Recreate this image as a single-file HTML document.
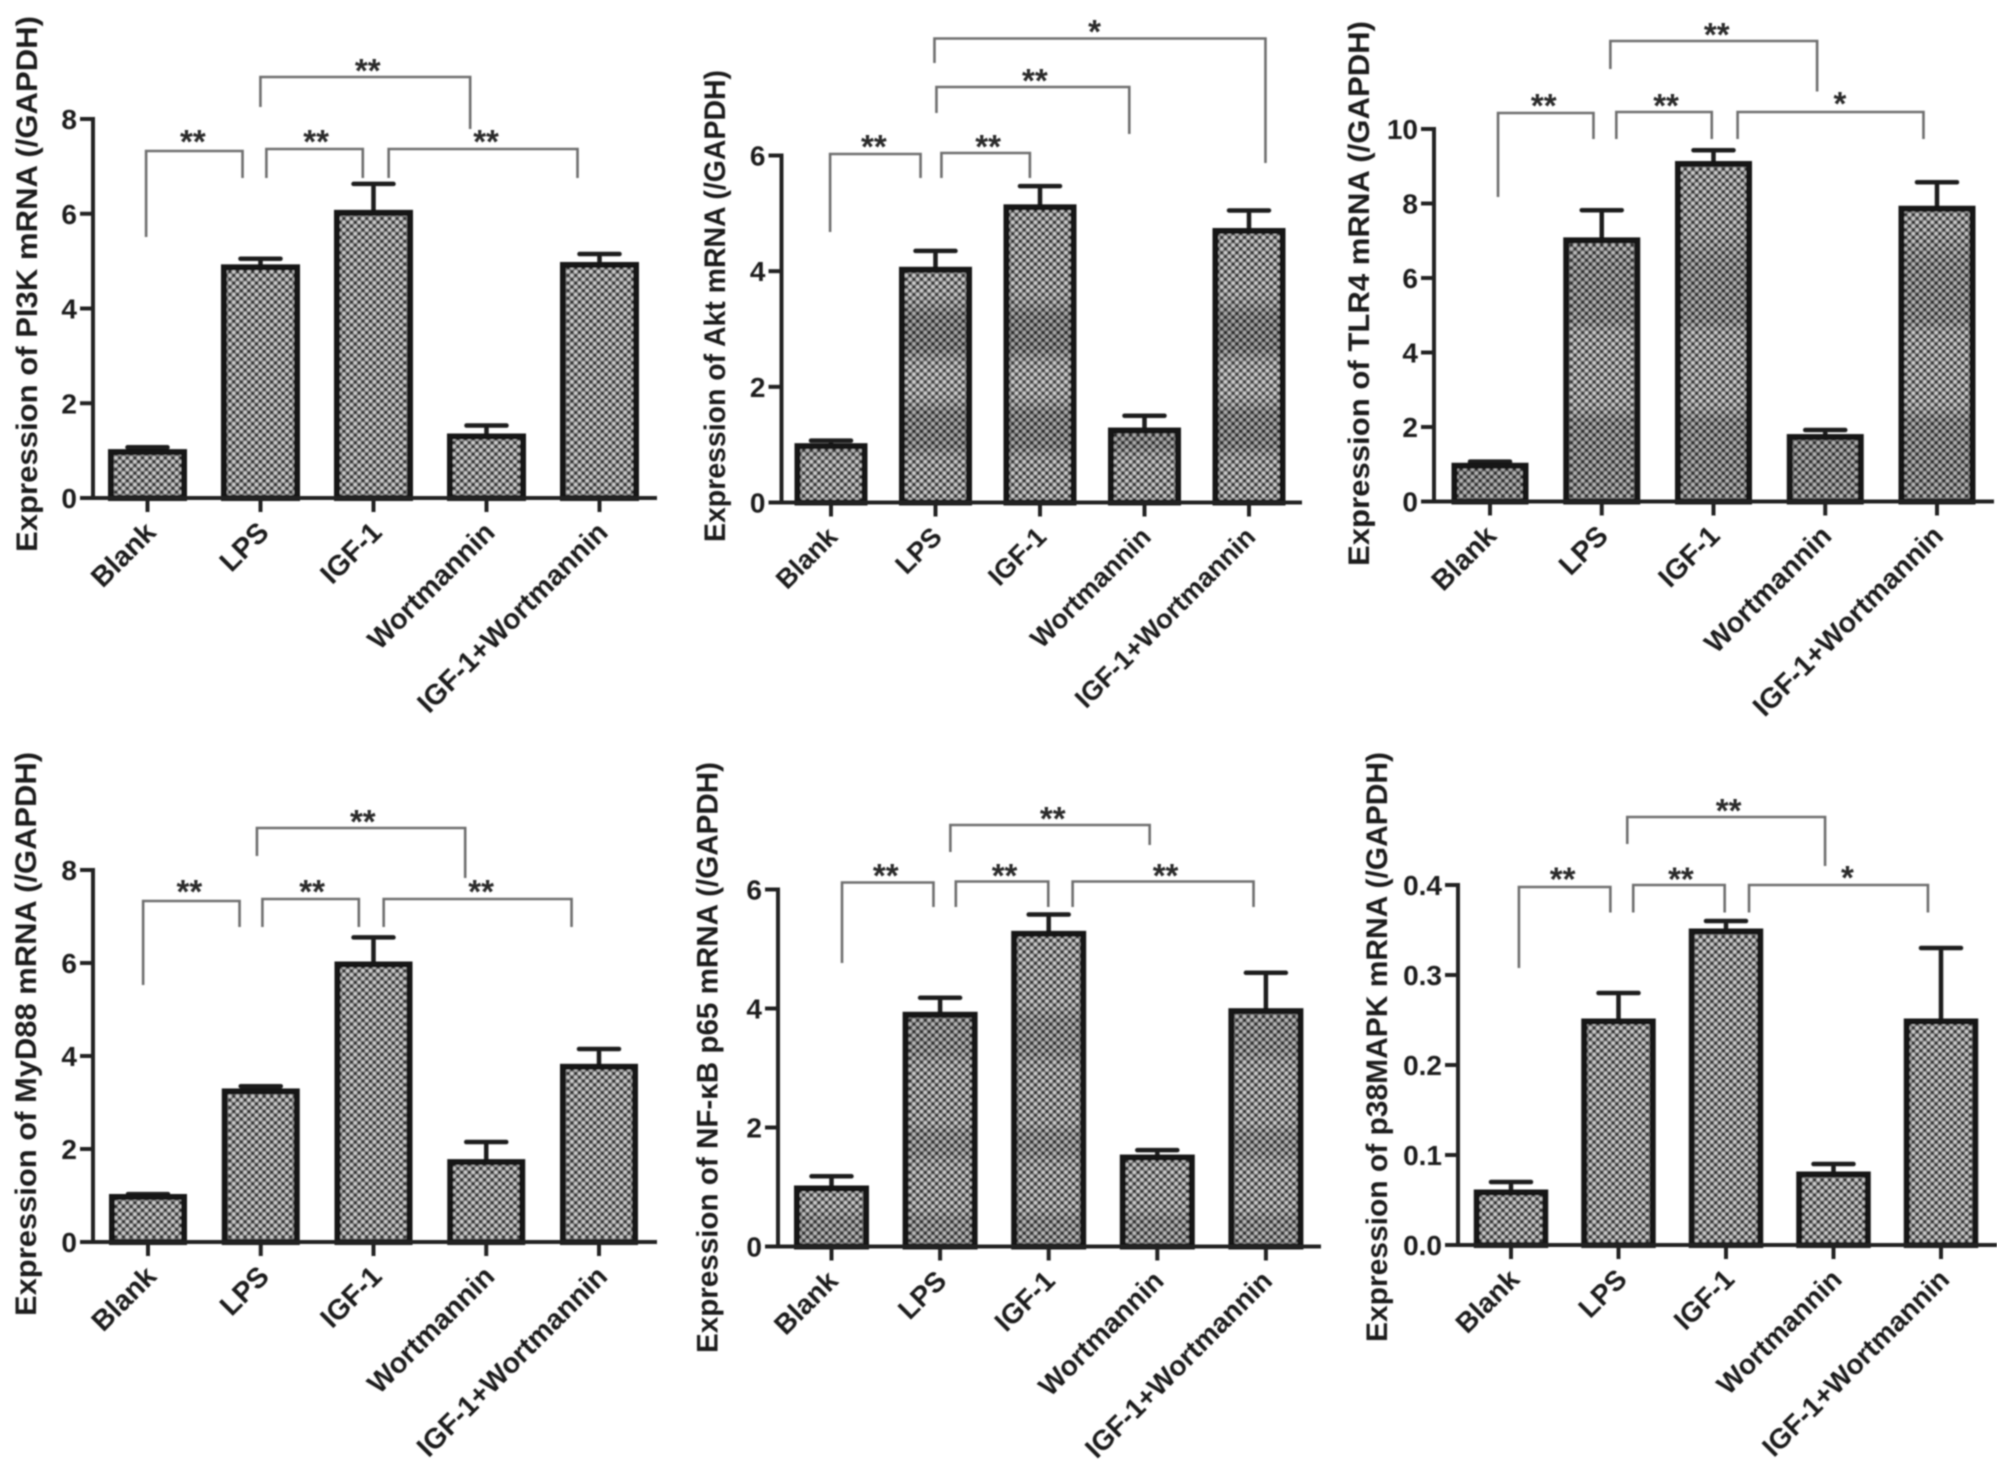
<!DOCTYPE html>
<html lang="en">
<head>
<meta charset="utf-8">
<title>Expression of mRNA panels</title>
<style>
  html, body { margin: 0; padding: 0; background: #fff; }
  svg { display: block; }
  text { font-family: "Liberation Sans", Arial, sans-serif; font-weight: bold; fill: #1e1e1e; }
</style>
</head>
<body>
<svg id="chart" xmlns="http://www.w3.org/2000/svg" width="2008" height="1472" viewBox="0 0 2008 1472">
  <defs>
    <pattern id="dots" width="7.6" height="7.6" patternUnits="userSpaceOnUse">
      <rect width="7.6" height="7.6" fill="#7a7a7a"/>
      <circle cx="1.9" cy="1.9" r="1.65" fill="#cfcfcf"/>
      <circle cx="5.7" cy="5.7" r="1.65" fill="#cfcfcf"/>
      <circle cx="5.7" cy="1.9" r="1.6" fill="#2e2e2e"/>
      <circle cx="1.9" cy="5.7" r="1.6" fill="#2e2e2e"/>
    </pattern>
    <filter id="soft" x="0" y="0" width="100%" height="100%">
      <feGaussianBlur stdDeviation="0.8"/>
    </filter>
  </defs>
  <g id="root" filter="url(#soft)"></g>
</svg>
<script>
// Shared category labels
const categories = ['Blank', 'LPS', 'IGF-1', 'Wortmannin', 'IGF-1+Wortmannin'];

// Panel A: PI3K
const pi3kValues = [1.0, 4.9, 6.05, 1.33, 4.95];
const pi3kUpper = [1.07, 5.05, 6.63, 1.53, 5.15];
const pi3kTicks = ['0', '2', '4', '6', '8'];

// Panel B: Akt
const aktValues = [1.0, 4.05, 5.13, 1.27, 4.72];
const aktUpper = [1.07, 4.35, 5.47, 1.5, 5.05];
const aktTicks = ['0', '2', '4', '6'];

// Panel C: TLR4
const tlr4Values = [1.0, 7.05, 9.1, 1.77, 7.9];
const tlr4Upper = [1.07, 7.82, 9.43, 1.92, 8.57];
const tlr4Ticks = ['0', '2', '4', '6', '8', '10'];

// Panel D: MyD88
const myd88Values = [1.0, 3.27, 6.0, 1.75, 3.8];
const myd88Upper = [1.03, 3.35, 6.55, 2.15, 4.15];
const myd88Ticks = ['0', '2', '4', '6', '8'];

// Panel E: NF-kB p65
const nfkbValues = [1.0, 3.92, 5.28, 1.52, 3.98];
const nfkbUpper = [1.18, 4.18, 5.58, 1.62, 4.6];
const nfkbTicks = ['0', '2', '4', '6'];

// Panel F: p38MAPK
const p38Values = [0.06, 0.25, 0.35, 0.08, 0.25];
const p38Upper = [0.07, 0.28, 0.36, 0.09, 0.33];
const p38Ticks = ['0.0', '0.1', '0.2', '0.3', '0.4'];

const NS = 'http://www.w3.org/2000/svg';
const root = document.getElementById('root');
const defs = document.querySelector('defs');

function make(parent, tag, attrs, name) {
  const el = document.createElementNS(NS, tag);
  for (const k in attrs) el.setAttribute(k, attrs[k]);
  
  
  parent.appendChild(el);
  return el;
}

function drawPanel(id, cfg) {
  const g = make(root, 'g', {}, id + '-panel');
  const n = cfg.ticks.length - 1;
  const yMin = parseFloat(cfg.ticks[0]);
  const yMax = parseFloat(cfg.ticks[n]);
  const yScale = v => cfg.y0 + (v - yMin) / (yMax - yMin) * (cfg.yTop - cfg.y0);
  const xScale = i => cfg.x0 + i * cfg.step;
  const bx = x => cfg.bx0 + (x - cfg.bx0) * 0.994;

  // optional moire banding on the tall bars
  let bandId = null;
  if (cfg.bands) {
    bandId = id + '-bands';
    const grad = make(defs, 'linearGradient', {
      id: bandId, gradientUnits: 'userSpaceOnUse', x1: 0, x2: 0, y1: cfg.yTop, y2: cfg.y0
    }, id + '-band-gradient');
    cfg.bands.forEach(b => {
      const s = document.createElementNS(NS, 'stop');
      s.setAttribute('offset', b[0]);
      s.setAttribute('stop-color', b[1] > 0 ? '#000' : '#fff');
      s.setAttribute('stop-opacity', Math.abs(b[1]));
      grad.appendChild(s);
    });
  }

  // bars and error bars
  cfg.values.forEach((v, i) => {
    const cx = xScale(i);
    const top = yScale(v) + 1.5;
    const up = yScale(cfg.upper[i]);
    const err = make(g, 'g', {}, id + '-error-bar-' + i);
    make(err, 'line', { x1: cx, x2: cx, y1: top, y2: up, stroke: '#1c1c1c', 'stroke-width': 4.5 }, id + '-error-stem-' + i);
    make(err, 'line', { x1: cx - 20, x2: cx + 20, y1: up, y2: up, stroke: '#1c1c1c', 'stroke-width': 4.5, 'stroke-linecap': 'round' }, id + '-error-cap-' + i);
    const w = cfg.barW - 6;
    make(g, 'rect', {
      x: cx - w / 2, y: top, width: w, height: cfg.y0 - top,
      fill: 'url(#dots)', stroke: '#141414', 'stroke-width': 6
    }, id + '-bar-' + i);
    if (bandId) {
      make(g, 'rect', {
        x: cx - w / 2 + 3, y: top + 3, width: w - 6, height: cfg.y0 - top - 6,
        fill: 'url(#' + bandId + ')'
      }, id + '-bar-shade-' + i);
    }
  });

  // axes
  const axisColor = '#222';
  make(g, 'line', { x1: cfg.axisX, x2: cfg.axisX, y1: cfg.yTop - 2, y2: cfg.y0 + 2, stroke: axisColor, 'stroke-width': 4 }, id + '-y-axis');
  make(g, 'line', { x1: cfg.axisX - 13, x2: cfg.xEnd, y1: cfg.y0, y2: cfg.y0, stroke: axisColor, 'stroke-width': 4 }, id + '-x-axis');

  cfg.ticks.forEach((t) => {
    const y = yScale(parseFloat(t));
    make(g, 'line', { x1: cfg.axisX - 13, x2: cfg.axisX, y1: y, y2: y, stroke: axisColor, 'stroke-width': 4 }, id + '-y-tick');
    const label = make(g, 'text', { x: cfg.axisX - 16, y: y + 10, 'text-anchor': 'end', 'font-size': 28 }, id + '-y-tick-label');
    label.textContent = t;
  });

  categories.forEach((c, i) => {
    const cx = xScale(i);
    make(g, 'line', { x1: cx, x2: cx, y1: cfg.y0, y2: cfg.y0 + 14, stroke: axisColor, 'stroke-width': 4 }, id + '-x-tick-' + i);
    const ax = cx + cfg.labelDx;
    const ay = cfg.y0 + 36;
    const label = make(g, 'text', {
      x: ax, y: ay, 'text-anchor': 'end', 'font-size': cfg.labelSize,
      transform: 'rotate(-45 ' + ax + ' ' + ay + ')'
    }, id + '-category-label-' + i);
    label.textContent = c;
  });

  // y-axis title
  const ty = (cfg.title.y1 + cfg.title.y2) / 2;
  const title = make(g, 'text', {
    x: cfg.title.x, y: ty, 'text-anchor': 'middle', 'font-size': 29.5,
    textLength: cfg.title.y2 - cfg.title.y1, lengthAdjust: 'spacingAndGlyphs',
    transform: 'rotate(-90 ' + cfg.title.x + ' ' + ty + ')'
  }, id + '-y-axis-title');
  title.textContent = cfg.title.text;

  // significance brackets: [xLeft, xRight, yTop, yLeftEnd, yRightEnd, xStar, yStar, label]
  cfg.brackets.forEach((b, i) => {
    make(g, 'path', {
      d: 'M' + bx(b[0]) + ' ' + b[3] + 'V' + b[2] + 'H' + bx(b[1]) + 'V' + b[4],
      fill: 'none', stroke: '#6e6e6e', 'stroke-width': 2.6
    }, id + '-significance-bracket-' + i);
    const s = make(g, 'text', { x: bx(b[5]), y: b[6] + 17, 'text-anchor': 'middle', 'font-size': 33, style: 'fill:#2a2a2a' }, id + '-significance-stars-' + i);
    s.textContent = b[7];
  });
}

drawPanel('pi3k', {
  values: pi3kValues, upper: pi3kUpper, ticks: pi3kTicks, bx0: 0, labelDx: 10, labelSize: 28.5,
  axisX: 93, xEnd: 657, y0: 498, yTop: 119, x0: 147.5, step: 113, barW: 79,
  title: { text: 'Expression of PI3K mRNA (/GAPDH)', x: 37, y1: 16, y2: 552 },
  brackets: [
    [147, 244, 151, 237, 178, 194, 136, '**'],
    [262, 473, 77, 107, 129, 370, 65, '**'],
    [268, 365, 149, 178, 178, 318, 136, '**'],
    [391, 581, 149, 178, 178, 489, 136, '**']
  ]
});

drawPanel('akt', {
  values: aktValues, upper: aktUpper, ticks: aktTicks, bx0: 680, labelDx: 8, labelSize: 27,
  axisX: 781.5, xEnd: 1302, y0: 502.5, yTop: 155.5, x0: 831, step: 104.5, barW: 73,
  bands: [[0, 0], [0.36, 0], [0.46, 0.18], [0.56, 0.18], [0.62, -0.06], [0.68, -0.06], [0.74, 0.16], [0.84, 0.16], [0.9, 0], [1, 0]],
  title: { text: 'Expression of Akt mRNA (/GAPDH)', x: 725, y1: 70, y2: 542 },
  brackets: [
    [831, 922, 154, 232, 178, 875, 141, '**'],
    [943, 1032, 153, 178, 178, 990, 141, '**'],
    [938, 1132, 87, 113, 134, 1037, 75, '**'],
    [936, 1269, 38.5, 63, 163, 1097, 26, '*']
  ]
});

drawPanel('tlr4', {
  values: tlr4Values, upper: tlr4Upper, ticks: tlr4Ticks, bx0: 1340, labelDx: 8, labelSize: 28.5,
  axisX: 1434, xEnd: 1994, y0: 501.5, yTop: 129, x0: 1490, step: 111.75, barW: 77,
  bands: [[0, 0], [0.28, 0.02], [0.36, 0.12], [0.52, 0.12], [0.56, -0.02], [0.72, -0.02], [0.78, 0.14], [0.95, 0.12], [1, 0.08]],
  title: { text: 'Expression of TLR4 mRNA (/GAPDH)', x: 1369, y1: 21, y2: 566 },
  brackets: [
    [1499, 1595, 113, 197, 139, 1545, 100, '**'],
    [1618, 1714, 112, 139, 139, 1668, 100, '**'],
    [1740, 1927, 112, 139, 139, 1843, 98, '*'],
    [1612, 1820, 41, 69, 91.5, 1719, 29, '**']
  ]
});

drawPanel('myd88', {
  values: myd88Values, upper: myd88Upper, ticks: myd88Ticks, bx0: 0, labelDx: 10, labelSize: 28.5,
  axisX: 93, xEnd: 657, y0: 1242, yTop: 870, x0: 148, step: 112.75, barW: 78,
  title: { text: 'Expression of MyD88 mRNA (/GAPDH)', x: 36, y1: 752, y2: 1316 },
  brackets: [
    [144, 241, 901, 985, 927, 190.5, 886, '**'],
    [264, 361, 899, 927, 927, 314, 886, '**'],
    [386, 575, 899, 927, 927, 484, 886, '**'],
    [258.5, 468, 828, 856, 878, 365, 816, '**']
  ]
});

drawPanel('nfkb', {
  values: nfkbValues, upper: nfkbUpper, ticks: nfkbTicks, bx0: 680, labelDx: 8, labelSize: 28,
  axisX: 778, xEnd: 1321, y0: 1246.5, yTop: 889.5, x0: 831.5, step: 108.6, barW: 75,
  bands: [[0, 0], [0.3, 0], [0.36, 0.1], [0.46, 0.1], [0.52, 0], [0.64, 0], [0.68, 0.1], [0.74, 0.1], [0.8, 0], [0.88, 0], [0.92, 0.1], [1, 0.08]],
  title: { text: 'Expression of NF-\u03BAB p65 mRNA (/GAPDH)', x: 717.5, y1: 762, y2: 1353 },
  brackets: [
    [843, 935, 882.5, 963, 907, 887, 870, '**'],
    [957.5, 1050.5, 881.5, 907, 907, 1006.5, 870, '**'],
    [1075, 1257, 881.5, 907, 907, 1168.5, 870, '**'],
    [952, 1152.5, 825, 852, 845, 1055, 813, '**']
  ]
});

drawPanel('p38mapk', {
  values: p38Values, upper: p38Upper, ticks: p38Ticks, bx0: 1340, labelDx: 10, labelSize: 28,
  axisX: 1458, xEnd: 1997, y0: 1245, yTop: 885, x0: 1511, step: 107.5, barW: 74.5,
  title: { text: 'Expression of p38MAPK mRNA (/GAPDH)', x: 1387, y1: 752, y2: 1342 },
  brackets: [
    [1520, 1612, 887, 968, 912.5, 1564, 873.5, '**'],
    [1635, 1727, 885, 912.5, 912.5, 1683, 873.5, '**'],
    [1751.5, 1931.5, 885, 912.5, 912.5, 1850.5, 872, '*'],
    [1629, 1828, 817, 844, 866, 1731, 805, '**']
  ]
});
</script>
</body>
</html>
